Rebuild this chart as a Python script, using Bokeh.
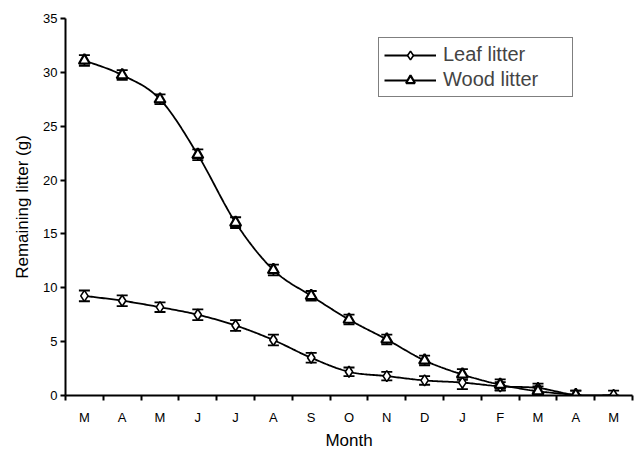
import numpy as np
from bokeh.plotting import figure
from bokeh.models import (FixedTicker, Range1d, Whisker, ColumnDataSource, Legend,
                          LegendItem, TeeHead)
from bokeh.embed import file_html
from bokeh.resources import INLINE

months = ["M", "A", "M", "J", "J", "A", "S", "O", "N", "D", "J", "F", "M", "A", "M"]
leaf = [9.25, 8.8, 8.2, 7.5, 6.5, 5.15, 3.5, 2.2, 1.8, 1.4, 1.2, 0.85, 0.7, 0.05, 0.05]
leaf_err = [0.5, 0.5, 0.45, 0.5, 0.5, 0.5, 0.45, 0.4, 0.4, 0.4, 0.6, 0.4, 0.4, 0.4, 0.4]
wood = [31.1, 29.75, 27.5, 22.35, 16.05, 11.65, 9.25, 7.05, 5.2, 3.25, 1.95, 1.0, 0.4, 0.05]
wood_err = [0.5, 0.45, 0.45, 0.5, 0.5, 0.5, 0.45, 0.45, 0.45, 0.45, 0.5, 0.5, 0.45, 0.4]

FONT = "Liberation Sans"


def smooth(xs, ys, n=24):
    """Bezier (Catmull-Rom style) smoothing through the data points."""
    xs = np.asarray(xs, float)
    ys = np.asarray(ys, float)
    px = np.concatenate([[xs[0]], xs, [xs[-1]]])
    py = np.concatenate([[ys[0]], ys, [ys[-1]]])
    ox, oy = [], []
    t = np.linspace(0, 1, n)
    for i in range(1, len(px) - 2):
        p0 = np.array([px[i - 1], py[i - 1]])
        p1 = np.array([px[i], py[i]])
        p2 = np.array([px[i + 1], py[i + 1]])
        p3 = np.array([px[i + 2], py[i + 2]])
        c1 = p1 + (p2 - p0) / 6.0
        c2 = p2 - (p3 - p1) / 6.0
        b = ((1 - t) ** 3)[:, None] * p1 + (3 * (1 - t) ** 2 * t)[:, None] * c1 \
            + (3 * (1 - t) * t ** 2)[:, None] * c2 + (t ** 3)[:, None] * p2
        ox.extend(b[:, 0])
        oy.extend(b[:, 1])
    return ox, oy


n = len(months)
xc = list(range(1, n + 1))

p = figure(width=634, height=452, output_backend="svg", toolbar_location=None,
           x_range=Range1d(0.5, n + 0.5), y_range=Range1d(0, 35),
           min_border_left=65, min_border_right=2, min_border_top=18,
           min_border_bottom=57)
p.frame_width = 567
p.frame_height = 377
p.outline_line_color = None
p.xgrid.visible = False
p.ygrid.visible = False
p.background_fill_color = "white"
p.border_fill_color = "white"

# Leaf
lx = xc[:len(leaf)]
sx, sy = smooth(lx, leaf)
leaf_line = p.line(sx, sy, line_color="black", line_width=1.8)
lsrc = ColumnDataSource(dict(x=lx, y=leaf,
                             up=[v + e for v, e in zip(leaf, leaf_err)],
                             lo=[max(v - e, 0) for v, e in zip(leaf, leaf_err)]))
p.add_layout(Whisker(source=lsrc, base="x", upper="up", lower="lo",
                     line_color="black", line_width=1.8,
                     upper_head=TeeHead(size=11, line_width=1.8, line_color="black"),
                     lower_head=TeeHead(size=11, line_width=1.8, line_color="black")))
leaf_pts = p.scatter("x", "y", source=lsrc, marker="diamond", size=11,
                     fill_color="white", line_color="black", line_width=1.6)

# Wood
wx = xc[:len(wood)]
sx, sy = smooth(wx, wood)
wood_line = p.line(sx, sy, line_color="black", line_width=1.8)
wsrc = ColumnDataSource(dict(x=wx, y=wood,
                             up=[v + e for v, e in zip(wood, wood_err)],
                             lo=[max(v - e, 0) for v, e in zip(wood, wood_err)]))
p.add_layout(Whisker(source=wsrc, base="x", upper="up", lower="lo",
                     line_color="black", line_width=1.8,
                     upper_head=TeeHead(size=11, line_width=1.8, line_color="black"),
                     lower_head=TeeHead(size=11, line_width=1.8, line_color="black")))
wood_pts = p.scatter("x", "y", source=wsrc, marker="triangle", size=11,
                     fill_color="white", line_color="black", line_width=2.2)

# Axes
xa = p.xaxis[0]
xa.ticker = FixedTicker(ticks=xc, minor_ticks=[i + 0.5 for i in range(n + 1)])
xa.major_label_overrides = {i: m for i, m in zip(xc, months)}
xa.major_tick_out = 0
xa.major_tick_in = 0
xa.minor_tick_out = 5
xa.minor_tick_in = 0
xa.minor_tick_line_width = 2
xa.axis_line_width = 2
xa.major_label_standoff = 9
xa.major_label_text_font = FONT
xa.major_label_text_font_size = "13px"
xa.major_label_text_color = "black"
xa.axis_label = "Month"
xa.axis_label_text_font = FONT
xa.axis_label_text_font_size = "17px"
xa.axis_label_text_font_style = "normal"
xa.axis_label_text_color = "black"
xa.axis_label_standoff = 3

ya = p.yaxis[0]
ya.ticker = FixedTicker(ticks=[0, 5, 10, 15, 20, 25, 30, 35])
ya.major_tick_out = 5
ya.major_tick_in = 0
ya.major_tick_line_width = 2
ya.minor_tick_out = 0
ya.minor_tick_in = 0
ya.axis_line_width = 2
ya.major_label_standoff = 3
ya.major_label_text_font = FONT
ya.major_label_text_font_size = "13px"
ya.major_label_text_color = "black"
ya.axis_label = "Remaining litter (g)"
ya.axis_label_text_font = FONT
ya.axis_label_text_font_size = "17px"
ya.axis_label_text_font_style = "normal"
ya.axis_label_text_color = "black"
ya.axis_label_standoff = 8

legend = Legend(items=[LegendItem(label="Leaf litter", renderers=[leaf_line, leaf_pts]),
                       LegendItem(label="Wood litter", renderers=[wood_line, wood_pts])],
                location=(313, 298), padding=5, spacing=2, margin=0,
                glyph_width=52, glyph_height=22, label_standoff=7, label_height=22,
                label_width=124,
                label_text_font=FONT, label_text_font_size="20px",
                border_line_color="black", border_line_width=1.5,
                background_fill_alpha=1.0)
p.add_layout(legend)

open("out.html", "w").write(file_html(p, INLINE))
